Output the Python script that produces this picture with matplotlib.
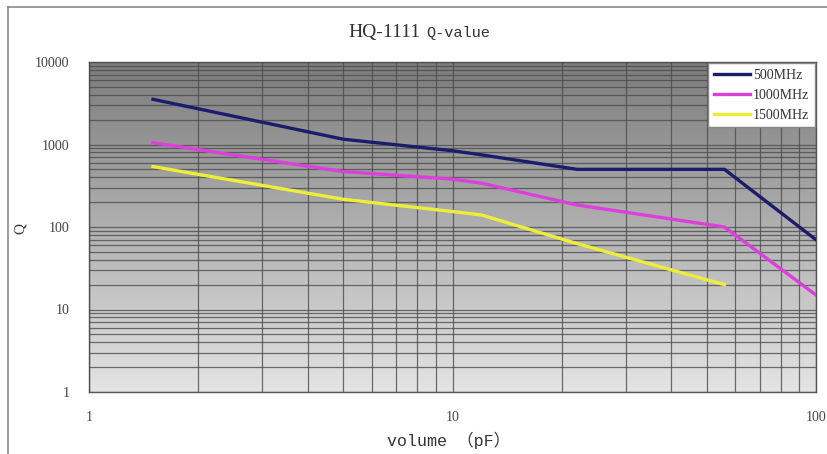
import numpy as np
import matplotlib
matplotlib.use("Agg")
import matplotlib.pyplot as plt
from matplotlib.lines import Line2D
from matplotlib.ticker import FixedLocator, FixedFormatter, LogLocator, NullFormatter

# capacitance (pF) and Q values
cap = [1.5, 5, 10, 12, 22, 56, 100]
q_500 = [3530, 1160, 840, 750, 500, 500, 70]
q_1000 = [1050, 470, 380, 340, 185, 100, 15]
cap_1500 = [1.5, 5, 10, 12, 22, 56]
q_1500 = [540, 217, 154, 140, 63, 20]

labels = ["500MHz", "1000MHz", "1500MHz"]
colors = ["#1c1c6a", "#dd3fdd", "#eeee3a"]

x_ticks = [1, 10, 100]
y_ticks = [1, 10, 100, 1000, 10000]

serif = ["Liberation Serif", "DejaVu Serif"]
mono = ["Liberation Mono", "Noto Sans CJK SC", "DejaVu Sans"]

fig = plt.figure(figsize=(8.27, 4.54), dpi=100)
ax = fig.add_axes([89 / 827, 1 - 392 / 454, 727 / 827, 330 / 454])

# grey vertical gradient behind the grid, dark at the top
grad = np.linspace(0, 1, 256).reshape(-1, 1)
cmap = matplotlib.colors.LinearSegmentedColormap.from_list("g", ["#7c7c7c", "#e4e4e4"])
ax.imshow(grad, cmap=cmap, aspect="auto", extent=[0, 1, 0, 1], origin="upper",
          transform=ax.transAxes, zorder=0)

ax.set_xscale("log")
ax.set_yscale("log")
ax.set_xlim(1, 100)
ax.set_ylim(1, 10000)

ax.xaxis.set_major_locator(FixedLocator(x_ticks))
ax.xaxis.set_major_formatter(FixedFormatter([str(t) for t in x_ticks]))
ax.yaxis.set_major_locator(FixedLocator(y_ticks))
ax.yaxis.set_major_formatter(FixedFormatter([str(t) for t in y_ticks]))
ax.xaxis.set_minor_locator(LogLocator(base=10, subs=np.arange(2, 10)))
ax.yaxis.set_minor_locator(LogLocator(base=10, subs=np.arange(2, 10)))
ax.xaxis.set_minor_formatter(NullFormatter())
ax.yaxis.set_minor_formatter(NullFormatter())

ax.grid(True, which="both", color="#4c4c4c", linewidth=0.9, alpha=0.8)
ax.set_axisbelow(False)
ax.tick_params(which="both", length=0)
ax.tick_params(axis="x", pad=14, labelsize=10, labelcolor="#444444")
ax.tick_params(axis="y", pad=14, labelsize=10, labelcolor="#444444")
for lab in ax.get_xticklabels() + ax.get_yticklabels():
    lab.set_family(serif)
for s in ax.spines.values():
    s.set_color("#555555")
    s.set_linewidth(1.0)

ax.plot(cap, q_500, color=colors[0], lw=2.4, label=labels[0], zorder=3)
ax.plot(cap, q_1000, color=colors[1], lw=2.4, label=labels[1], zorder=3)
ax.plot(cap_1500, q_1500, color=colors[2], lw=2.4, label=labels[2], zorder=3)

leg = ax.legend(loc="upper right", borderaxespad=0.1, fancybox=False, framealpha=1,
                edgecolor="#888888", handlelength=2.6, handletextpad=0.2,
                labelspacing=0.5, prop={"family": serif, "size": 10})
for t in leg.get_texts():
    t.set_color("#333333")

# title, split in two fonts
fig.text(384 / 827, 1 - 33 / 454, "HQ-1111", ha="center", va="center",
         fontsize=14, family=serif, color="#333333")
fig.text(458 / 827, 1 - 33 / 454, "Q-value", ha="center", va="center",
         fontsize=11, family=mono, color="#333333")

fig.text(449 / 827, 1 - 440 / 454, "volume （pF）", ha="center", va="center",
         fontsize=12, family=mono, color="#333333")
fig.text(20 / 827, 1 - 228 / 454, "Q", ha="center", va="center", rotation=90,
         fontsize=11, family=serif, color="#333333")

# outer frame of the picture
fig.add_artist(Line2D([8 / 827, 1], [1 - 7 / 454, 1 - 7 / 454], color="#8a8a8a", lw=1.2))
fig.add_artist(Line2D([8 / 827, 8 / 827], [0, 1 - 7 / 454], color="#8a8a8a", lw=1.2))

fig.savefig("out.png", dpi=100)
plt.close(fig)
